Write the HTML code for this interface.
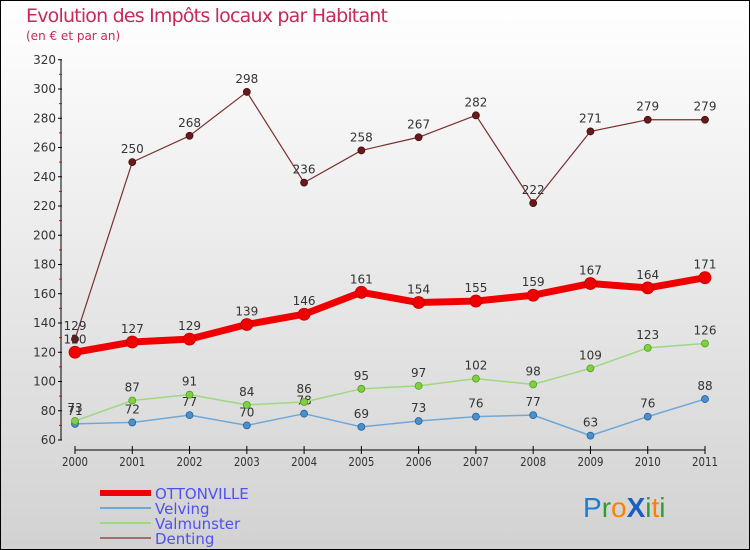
<!DOCTYPE html>
<html><head><meta charset="utf-8"><style>
html,body{margin:0;padding:0}
body{width:750px;height:550px;overflow:hidden;font-family:"DejaVu Sans","Liberation Sans",sans-serif}
#wrap{position:absolute;left:0;top:0;width:748px;height:548px;border:1px solid #000;background:linear-gradient(#ffffff,#d2d2d2)}
</style></head><body>
<div id="wrap">
<svg id="chart" width="750" height="550" style="position:absolute;left:-1px;top:-1px">
<text x="26" y="22" font-size="19" fill="#c8285a" font-weight="200" style="font-family:'DejaVu Sans',sans-serif;font-weight:normal" textLength="362">Evolution des Impôts locaux par Habitant</text>
<text x="26" y="40" font-size="12" fill="#c8285a">(en € et par an)</text>
<g id="axes"></g><g id="series"></g><g id="legend"></g>
<text x="583" y="517" font-size="28" font-family="'Liberation Sans',sans-serif"><tspan fill="#1a7fd0">P</tspan><tspan fill="#2ca02c">r</tspan><tspan fill="#ff8000">o</tspan><tspan fill="#1a5fc0" font-weight="bold">X</tspan><tspan fill="#2ca02c">i</tspan><tspan fill="#ff8000">t</tspan><tspan fill="#2ca02c">i</tspan></text>
</svg>
</div>
<script>
const years=["2000","2001","2002","2003","2004","2005","2006","2007","2008","2009","2010","2011"];
const yTicks=[60,80,100,120,140,160,180,200,220,240,260,280,300,320];
const ottonville=[120,127,129,139,146,161,154,155,159,167,164,171];
const velving=[71,72,77,70,78,69,73,76,77,63,76,88];
const valmunster=[73,87,91,84,86,95,97,102,98,109,123,126];
const denting=[129,250,268,298,236,258,267,282,222,271,279,279];
const NS="http://www.w3.org/2000/svg";
const x=i=>75+i*(630/11);
const y=v=>440-(v-60)*1.4625;
function mk(tag,attrs,parent,text){const e=document.createElementNS(NS,tag);for(const k in attrs)e.setAttribute(k,attrs[k]);if(text!==undefined)e.textContent=text;parent.appendChild(e);return e;}
const axes=document.getElementById('axes');
let a=mk('line',{x1:61,y1:60,x2:61,y2:440,stroke:'#000','stroke-width':1},axes);

a=mk('line',{x1:75,y1:450,x2:705,y2:450,stroke:'#000','stroke-width':1},axes);

yTicks.forEach((t,i)=>{
  mk('line',{x1:58,y1:y(t),x2:62,y2:y(t),stroke:'#000'},axes);
  const l=mk('text',{x:56,y:y(t)+4,'font-size':12,'text-anchor':'end',fill:'#333'},axes,t);
  
  if(i<yTicks.length-1)mk('line',{x1:59,y1:y(t+10),x2:62,y2:y(t+10),stroke:'#e00'},axes);
});
years.forEach((yr,i)=>{
  mk('line',{x1:x(i),y1:446,x2:x(i),y2:454,stroke:'#000'},axes);
  const l=mk('text',{x:x(i),y:466,'font-size':12,'text-anchor':'middle',fill:'#333',textLength:26,lengthAdjust:'spacingAndGlyphs'},axes,yr);
  
});
const ser=document.getElementById('series');
function draw(name,data,color,w,r,dot,stroke){
  const g=mk('g',{},ser);
  
  const p=mk('polyline',{points:data.map((v,i)=>x(i)+','+y(v)).join(' '),fill:'none',stroke:color,'stroke-width':w,'stroke-linejoin':'round'},g);
  
  data.forEach((v,i)=>{
    const c=mk('circle',{cx:x(i),cy:y(v),r:r,fill:dot,stroke:stroke,'stroke-width':0.8},g);
    
    const t=mk('text',{x:x(i),y:y(v)-9,'font-size':12,'text-anchor':'middle',fill:'#333'},g,v);
    
  });
}
draw('velving',velving,'#6fa8d8',1.5,3.5,'#4a90d0','#2a6090');
draw('valmunster',valmunster,'#9fd880',1.5,3.5,'#80d040','#50a020');
draw('denting',denting,'#7a3030',1.2,3.5,'#6a1a1a','#401010');
draw('ottonville',ottonville,'#f00000',7,6,'#f00000','#c00000');
const lg=document.getElementById('legend');
const items=[["OTTONVILLE","#f00000",6],["Velving","#6fa8d8",2],["Valmunster","#9fd880",2],["Denting","#a07070",2]];
items.forEach((it,i)=>{
  const yy=493+i*15;
  const g=mk('g',{},lg);
  
  mk('line',{x1:100,y1:yy,x2:151,y2:yy,stroke:it[1],'stroke-width':it[2]},g);
  mk('text',{x:155,y:yy+6,'font-size':15,fill:'#5050f0'},g,it[0]);
});
</script>
</body></html>
